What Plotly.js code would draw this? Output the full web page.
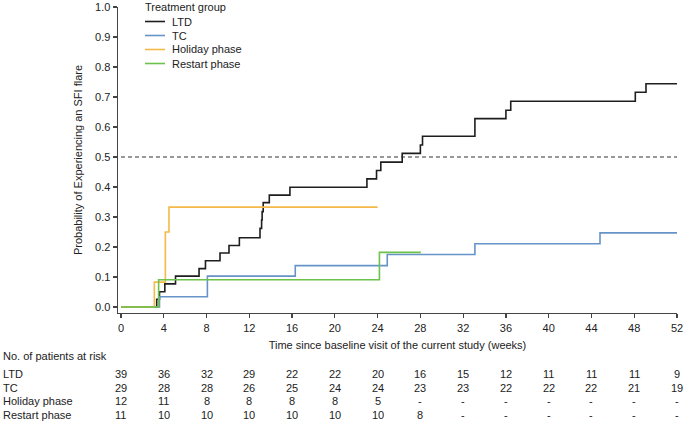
<!DOCTYPE html>
<html>
<head>
<meta charset="utf-8">
<script src="https://cdn.plot.ly/plotly-3.0.1.min.js"></script>
<style>html,body{margin:0;padding:0;background:#fff;}#chart{width:685px;height:422px;}</style>
</head>
<body>
<div id="chart"></div>
<script>
// Kaplan-Meier style cumulative probability of SFI flare (step functions)
const ltdWeeks = [0, 3.34, 3.6, 4.1, 5.1, 7.3, 7.9, 9.26, 10.1, 11.07, 13.0, 13.15, 13.2, 13.3, 13.87, 15.8, 23.0, 23.9, 24.3, 26.3, 28.0, 28.2, 33.1, 36.0, 36.45, 48.1, 49.1, 52];
const ltdProb  = [0, 0.026, 0.051, 0.077, 0.103, 0.128, 0.154, 0.18, 0.205, 0.231, 0.262, 0.29, 0.318, 0.348, 0.373, 0.399, 0.427, 0.455, 0.483, 0.512, 0.54, 0.569, 0.628, 0.656, 0.686, 0.716, 0.744, 0.744];

const tcWeeks = [0, 3.6, 8.08, 16.3, 24.9, 33.1, 44.8, 52];
const tcProb  = [0, 0.034, 0.103, 0.138, 0.175, 0.211, 0.247, 0.247];

const holidayWeeks = [0, 3.12, 4.15, 4.49, 24.0];
const holidayProb  = [0, 0.083, 0.25, 0.333, 0.333];

const restartWeeks = [0, 3.52, 24.17, 28.04];
const restartProb  = [0, 0.091, 0.182, 0.182];

const refWeeks = [0, 52];
const refProb = [0.5, 0.5];

// Number at risk table
const riskWeeks = [0, 4, 8, 12, 16, 20, 24, 28, 32, 36, 40, 44, 48, 52];
const riskGroups = ['LTD', 'TC', 'Holiday phase', 'Restart phase'];
const ltdRisk = ['39','36','32','29','22','22','20','16','15','12','11','11','11','9'];
const tcRisk = ['29','28','28','26','25','24','24','23','23','22','22','22','21','19'];
const holidayRisk = ['12','11','8','8','8','8','5','-','-','-','-','-','-','-'];
const restartRisk = ['11','10','10','10','10','10','10','8','-','-','-','-','-','-'];

const xTicks = [0, 4, 8, 12, 16, 20, 24, 28, 32, 36, 40, 44, 48, 52];
const yTicks = [0, 0.1, 0.2, 0.3, 0.4, 0.5, 0.6, 0.7, 0.8, 0.9, 1.0];

const legendTitle = 'Treatment group';
const seriesNames = ['LTD', 'TC', 'Holiday phase', 'Restart phase'];
const seriesColors = ['#1e1e1e', '#6693c8', '#f4b949', '#6cc24a'];

const FONT = 'Liberation Sans, Arial, sans-serif';
const TXT = {family: FONT, size: 11, color: '#222'};

function stepTrace(x, y, i) {
  return {x: x, y: y, name: seriesNames[i], type: 'scatter', mode: 'lines', showlegend: false,
          line: {shape: 'hv', color: seriesColors[i], width: 1.6}, hoverinfo: 'skip'};
}

const traces = [
  stepTrace(ltdWeeks, ltdProb, 0),
  stepTrace(tcWeeks, tcProb, 1),
  stepTrace(holidayWeeks, holidayProb, 2),
  stepTrace(restartWeeks, restartProb, 3),
  {x: refWeeks, y: refProb, type: 'scatter', mode: 'lines', showlegend: false,
   line: {color: '#333', width: 1.2, dash: '4px,3px'}, hoverinfo: 'skip'}
];

// Layout geometry
const W = 685, H = 422, ML = 118, MR = 8, MT = 7, MB = 109;
const plotH = H - MT - MB, plotW = W - ML - MR;
function py(pix) { return (H - MB - pix) / plotH; }
function px(pix) { return (pix - ML) / plotW; }

const annotations = [];
const shapes = [];

// Legend (drawn as a compact key)
annotations.push({xref: 'paper', yref: 'paper', x: px(143), y: py(7.5), xanchor: 'left', yanchor: 'middle',
  text: legendTitle, showarrow: false, font: TXT});
const legY = [21.5, 35.5, 49.5, 63.5];
seriesNames.forEach((n, i) => {
  shapes.push({type: 'line', xref: 'paper', yref: 'paper', x0: px(145), x1: px(165), y0: py(legY[i]), y1: py(legY[i]),
               line: {color: seriesColors[i], width: 1.6}});
  annotations.push({xref: 'paper', yref: 'paper', x: px(170), y: py(legY[i]), xanchor: 'left', yanchor: 'middle',
    text: n, showarrow: false, font: TXT});
});

// Risk table
annotations.push({xref: 'paper', yref: 'paper', x: px(1), y: py(356), xanchor: 'left', yanchor: 'middle',
  text: 'No. of patients at risk', showarrow: false, font: TXT});
const rows = [ltdRisk, tcRisk, holidayRisk, restartRisk];
const rowY = [374, 387.5, 401, 414.5];
rows.forEach((row, i) => {
  annotations.push({xref: 'paper', yref: 'paper', x: px(1), y: py(rowY[i]), xanchor: 'left', yanchor: 'middle',
    text: riskGroups[i], showarrow: false, font: TXT});
  row.forEach((v, j) => {
    annotations.push({xref: 'x', yref: 'paper', x: riskWeeks[j], y: py(rowY[i]), xanchor: 'center', yanchor: 'middle',
      text: v, showarrow: false, font: TXT});
  });
});

const layout = {
  width: W, height: H,
  margin: {l: ML, r: MR, t: MT, b: MB, pad: 0},
  paper_bgcolor: '#fff', plot_bgcolor: '#fff',
  font: TXT,
  showlegend: false,
  xaxis: {range: [-0.28, 52], tickvals: xTicks, ticktext: xTicks.map(String), ticks: 'outside', ticklen: 4,
          tickwidth: 1.2, tickcolor: '#444', showline: true, linecolor: '#444', linewidth: 1.4,
          showgrid: false, zeroline: false, tickfont: TXT,
          title: {text: 'Time since baseline visit of the current study (weeks)', standoff: 8, font: TXT},
          automargin: false},
  yaxis: {range: [-0.02, 1.0], tickvals: yTicks, ticktext: yTicks.map(v => v.toFixed(1)), ticks: 'outside', ticklen: 4,
          tickwidth: 1.2, tickcolor: '#444', showline: true, linecolor: '#444', linewidth: 1.4,
          showgrid: false, zeroline: false, tickfont: TXT,
          title: {text: 'Probability of Experiencing an SFI flare', standoff: 10, font: TXT},
          automargin: false},
  shapes: shapes,
  annotations: annotations
};

Plotly.newPlot('chart', traces, layout, {displayModeBar: false, staticPlot: true});
</script>
</body>
</html>
